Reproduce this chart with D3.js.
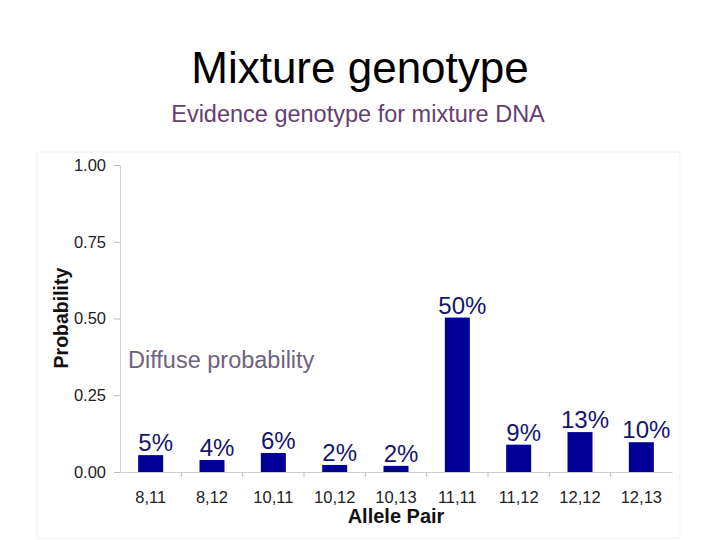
<!DOCTYPE html>
<html>
<head>
<meta charset="utf-8">
<script src="https://cdn.jsdelivr.net/npm/d3@7"></script>
<style>
  body { margin: 0; background: #fff; }
  text { font-family: "Liberation Sans", Arial, sans-serif; }
</style>
</head>
<body>
<div id="vizContainer"></div>
<script>
let w = 720;
let h = 540;

// data
let pairs = ["8,11", "8,12", "10,11", "10,12", "10,13", "11,11", "11,12", "12,12", "12,13"];
let probs = [0.055, 0.039, 0.062, 0.023, 0.02, 0.503, 0.089, 0.13, 0.097];
let pctLabels = ["5%", "4%", "6%", "2%", "2%", "50%", "9%", "13%", "10%"];
let yTicks = [0, 0.25, 0.5, 0.75, 1];

let viz = d3.select('#vizContainer').append('svg')
	.attr('width', w)
	.attr('height', h)
	.style('background-color', 'white');

// faint panel behind the chart
viz.append('rect')
	.attr('x', 37).attr('y', 152)
	.attr('width', 643).attr('height', 386)
	.attr('fill', 'white')
	.attr('stroke', '#f0f0f0');

viz.append('text')
	.attr('x', 360).attr('y', 83)
	.attr('text-anchor', 'middle')
	.attr('font-size', 44)
	.attr('fill', '#000')
	.text('Mixture genotype');

viz.append('text')
	.attr('x', 358).attr('y', 122)
	.attr('text-anchor', 'middle')
	.attr('font-size', 23.5)
	.attr('fill', '#64406e')
	.text('Evidence genotype for mixture DNA');

let xScale = d3.scaleBand().domain(pairs).range([120, 672]).paddingInner(0).paddingOuter(0);
let yScale = d3.scaleLinear().domain([0, 1]).range([472, 165]);

// y axis
let yAxis = viz.append('g')
	.attr('transform', 'translate(120,0)')
	.call(d3.axisLeft(yScale).tickValues(yTicks).tickFormat(d3.format('.2f')).tickSize(6).tickPadding(8));
yAxis.select('.domain').attr('stroke', '#d0d0d0');
yAxis.selectAll('.tick line').attr('stroke', '#bbb');
yAxis.selectAll('.tick text').attr('font-size', 16.5).attr('fill', '#222')
	.attr('font-family', '"Liberation Sans", Arial, sans-serif');

// x axis, ticks on band edges
let xAxis = viz.append('g')
	.attr('transform', 'translate(0,472)')
	.call(d3.axisBottom(xScale).tickSize(0).tickPadding(19));
xAxis.select('.domain').attr('stroke', '#d0d0d0');
xAxis.selectAll('.tick text').attr('font-size', 16.5).attr('fill', '#222')
	.attr('font-family', '"Liberation Sans", Arial, sans-serif');
xAxis.selectAll('.edge')
	.data(pairs.slice(1))
	.enter().append('line')
	.attr('x1', d => xScale(d)).attr('x2', d => xScale(d))
	.attr('y1', 0).attr('y2', 5)
	.attr('stroke', '#bbb');

viz.append('text')
	.attr('x', 396).attr('y', 523)
	.attr('text-anchor', 'middle')
	.attr('font-size', 20).attr('font-weight', 'bold')
	.attr('fill', '#111')
	.text('Allele Pair');

viz.append('text')
	.attr('transform', 'translate(68,318) rotate(-90)')
	.attr('text-anchor', 'middle')
	.attr('font-size', 19.5).attr('font-weight', 'bold')
	.attr('fill', '#111')
	.text('Probability');

let barW = 25;

viz.append('g').selectAll('.bar')
	.data(probs)
	.enter().append('rect')
	.attr('class', 'bar')
	.attr('x', (d, i) => xScale(pairs[i]) + xScale.bandwidth() / 2 - barW / 2)
	.attr('y', d => yScale(d))
	.attr('width', barW)
	.attr('height', d => yScale(0) - yScale(d))
	.attr('fill', '#000096');

viz.append('g').selectAll('.lbl')
	.data(probs)
	.enter().append('text')
	.attr('class', 'lbl')
	.attr('x', (d, i) => xScale(pairs[i]) + xScale.bandwidth() / 2 + 5)
	.attr('y', d => yScale(d) - 4)
	.attr('text-anchor', 'middle')
	.attr('font-size', 24)
	.attr('fill', '#14146e')
	.text((d, i) => pctLabels[i]);

viz.append('text')
	.attr('x', 128).attr('y', 368)
	.attr('font-size', 23.5)
	.attr('fill', '#6e6282')
	.text('Diffuse probability');
</script>
</body>
</html>
